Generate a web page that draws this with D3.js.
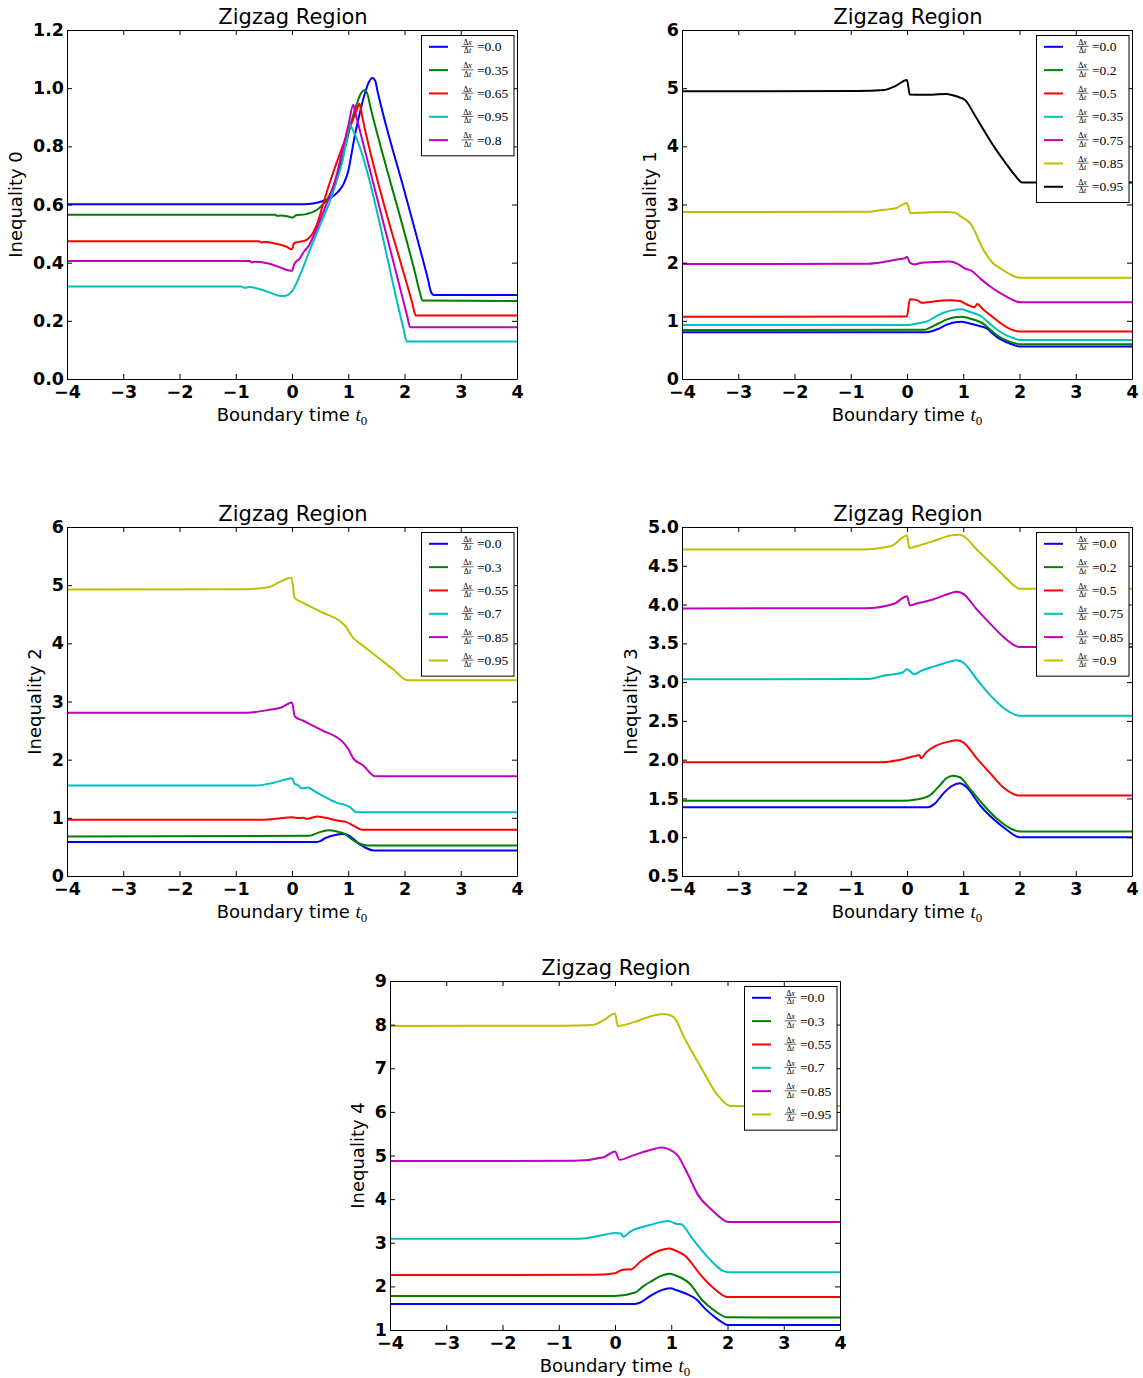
<!DOCTYPE html>
<html>
<head>
<meta charset="utf-8">
<script src="https://cdn.jsdelivr.net/npm/d3@7"></script>
<style>
  body { margin: 0; background: #fff; }
  svg { display: block; }
</style>
</head>
<body>
<svg id="fig" width="1143" height="1378"></svg>
<script>
// ---- shared axis values ----
const tTicks = [-4, -3, -2, -1, 0, 1, 2, 3, 4];

// ---- Inequality 0 ----
const ratios0 = ["0.0", "0.35", "0.65", "0.95", "0.8"];
const yTicks0 = [0.0, 0.2, 0.4, 0.6, 0.8, 1.0, 1.2];
const ineq0_a = [[-4,0.601],[0.2,0.601],[0.4,0.604],[0.55,0.612],[0.68,0.622],[0.82,0.644],[0.92,0.672],[1.0,0.715],[1.05,0.765],[1.1,0.82],[1.2,0.91],[1.3,0.985],[1.37,1.022],[1.43,1.035],[1.48,1.025],[1.52,0.99],[2.0,0.645],[2.3,0.43],[2.42,0.34],[2.47,0.3],[2.52,0.289],[4,0.289]];
const ineq0_b = [[-4,0.565],[-0.3,0.565],[-0.27,0.561],[-0.2,0.562],[-0.05,0.558],[0.02,0.555],[0.06,0.562],[0.25,0.567],[0.44,0.581],[0.55,0.6],[0.62,0.616],[0.74,0.661],[0.85,0.73],[0.95,0.8],[1.05,0.88],[1.15,0.945],[1.22,0.98],[1.28,0.993],[1.33,0.985],[1.4,0.93],[2.2,0.355],[2.27,0.3],[2.32,0.27],[4,0.268]];
const ineq0_c = [[-4,0.474],[-0.58,0.474],[-0.55,0.469],[-0.5,0.471],[-0.3,0.466],[-0.1,0.455],[0.0,0.446],[0.03,0.465],[0.08,0.47],[0.23,0.476],[0.3,0.485],[0.38,0.505],[0.45,0.535],[0.55,0.6],[0.68,0.68],[0.9,0.8],[1.05,0.875],[1.15,0.925],[1.2,0.946],[1.25,0.9],[2.14,0.26],[2.2,0.218],[4,0.218]];
const ineq0_d = [[-4,0.318],[-0.9,0.318],[-0.85,0.314],[-0.75,0.316],[-0.6,0.31],[-0.4,0.298],[-0.25,0.287],[-0.15,0.285],[-0.07,0.289],[0.0,0.302],[0.05,0.318],[0.3,0.435],[0.5,0.53],[0.7,0.625],[0.8,0.685],[0.9,0.75],[0.97,0.82],[1.03,0.875],[1.06,0.865],[1.98,0.175],[2.04,0.129],[4,0.129]];
const ineq0_e = [[-4,0.406],[-0.75,0.406],[-0.72,0.401],[-0.65,0.403],[-0.4,0.396],[-0.2,0.383],[-0.05,0.373],[0.0,0.372],[0.04,0.395],[0.14,0.415],[0.22,0.44],[0.3,0.458],[0.4,0.5],[0.5,0.547],[0.65,0.62],[0.77,0.685],[0.9,0.79],[1.0,0.87],[1.09,0.943],[1.12,0.92],[2.05,0.215],[2.1,0.178],[4,0.178]];

// ---- Inequality 1 ----
const ratios1 = ["0.0", "0.2", "0.5", "0.35", "0.75", "0.85", "0.95"];
const yTicks1 = [0, 1, 2, 3, 4, 5, 6];
const ineq1_a = [[-4,0.805],[0.35,0.805],[0.42,0.815],[0.55,0.86],[0.7,0.93],[0.85,0.975],[0.97,0.985],[1.1,0.96],[1.25,0.92],[1.42,0.87],[1.5,0.8],[1.6,0.72],[1.75,0.64],[1.9,0.585],[2.0,0.557],[4,0.557]];
const ineq1_b = [[-4,0.842],[0.3,0.845],[0.4,0.88],[0.55,0.95],[0.7,1.02],[0.85,1.06],[0.97,1.07],[1.1,1.045],[1.3,0.98],[1.4,0.92],[1.5,0.83],[1.65,0.72],[1.8,0.65],[1.95,0.605],[2.0,0.596],[4,0.596]];
const ineq1_c = [[-4,1.071],[-0.1,1.073],[0.0,1.08],[0.05,1.37],[0.15,1.36],[0.2,1.346],[0.26,1.31],[0.4,1.325],[0.6,1.345],[0.76,1.356],[0.94,1.34],[1.05,1.29],[1.2,1.235],[1.25,1.29],[1.35,1.2],[1.48,1.1],[1.65,0.97],[1.8,0.875],[1.95,0.822],[2.0,0.815],[4,0.815]];
const ineq1_d = [[-4,0.928],[0.0,0.93],[0.2,0.96],[0.38,1.0],[0.5,1.07],[0.65,1.14],[0.8,1.18],[0.97,1.198],[1.1,1.16],[1.33,1.07],[1.45,0.97],[1.6,0.85],[1.75,0.76],[1.9,0.7],[2.0,0.672],[4,0.672]];
const ineq1_e = [[-4,1.977],[-0.7,1.98],[-0.5,2.0],[-0.2,2.05],[-0.04,2.075],[0.0,2.1],[0.05,2.0],[0.14,1.97],[0.26,2.0],[0.5,2.01],[0.76,2.02],[0.9,1.98],[1.03,1.9],[1.15,1.86],[1.3,1.73],[1.48,1.59],[1.6,1.51],[1.77,1.415],[1.9,1.35],[2.01,1.318],[4,1.318]];
const ineq1_f = [[-4,2.871],[-0.7,2.875],[-0.4,2.91],[-0.2,2.935],[0.0,3.026],[0.06,2.855],[0.29,2.86],[0.7,2.871],[0.85,2.86],[0.95,2.8],[1.13,2.67],[1.36,2.22],[1.5,2.02],[1.71,1.87],[1.85,1.79],[2.01,1.742],[4,1.742]];
const ineq1_g = [[-4,4.947],[-0.9,4.95],[-0.4,4.97],[-0.2,5.04],[0.0,5.14],[0.05,4.89],[0.3,4.885],[0.7,4.9],[0.89,4.856],[1.04,4.79],[1.19,4.56],[1.37,4.27],[1.55,3.99],[1.74,3.73],[1.92,3.5],[2.05,3.38],[4,3.38]];

// ---- Inequality 2 ----
const ratios2 = ["0.0", "0.3", "0.55", "0.7", "0.85", "0.95"];
const yTicks2 = [0, 1, 2, 3, 4, 5, 6];
const ineq2_a = [[-4,0.583],[0.43,0.583],[0.5,0.6],[0.6,0.655],[0.75,0.7],[0.9,0.72],[1.0,0.7],[1.1,0.63],[1.2,0.545],[1.3,0.49],[1.45,0.44],[4,0.44]];
const ineq2_b = [[-4,0.68],[0.3,0.69],[0.4,0.72],[0.55,0.77],[0.65,0.785],[0.8,0.765],[0.95,0.72],[1.05,0.64],[1.15,0.58],[1.33,0.526],[4,0.526]];
const ineq2_c = [[-4,0.966],[-0.5,0.968],[-0.28,0.983],[0.0,1.011],[0.08,0.998],[0.2,1.0],[0.26,0.983],[0.35,1.0],[0.45,1.023],[0.6,1.0],[0.8,0.955],[0.97,0.926],[1.1,0.86],[1.24,0.795],[4,0.795]];
const ineq2_d = [[-4,1.554],[-0.64,1.556],[-0.34,1.6],[0.0,1.68],[0.05,1.583],[0.1,1.566],[0.16,1.51],[0.2,1.508],[0.28,1.52],[0.43,1.44],[0.6,1.35],[0.8,1.257],[0.94,1.223],[1.03,1.183],[1.15,1.097],[4,1.097]];
const ineq2_e = [[-4,2.806],[-0.8,2.808],[-0.4,2.857],[-0.19,2.897],[0.0,2.983],[0.05,2.743],[0.2,2.669],[0.55,2.497],[0.8,2.383],[0.91,2.297],[1.0,2.183],[1.09,2.023],[1.27,1.897],[1.48,1.714],[4,1.714]];
const ineq2_f = [[-4,4.926],[-0.9,4.928],[-0.4,4.97],[-0.19,5.07],[-0.01,5.126],[0.05,4.783],[0.2,4.697],[0.55,4.526],[0.85,4.383],[0.97,4.27],[1.06,4.126],[1.27,3.954],[1.57,3.726],[1.81,3.543],[2.05,3.366],[4,3.366]];

// ---- Inequality 3 ----
const ratios3 = ["0.0", "0.2", "0.5", "0.75", "0.85", "0.9"];
const yTicks3 = [0.5, 1.0, 1.5, 2.0, 2.5, 3.0, 3.5, 4.0, 4.5, 5.0];
const ineq3_a = [[-4,1.387],[0.37,1.387],[0.49,1.43],[0.64,1.559],[0.79,1.657],[0.94,1.696],[1.06,1.644],[1.3,1.409],[1.55,1.224],[1.79,1.087],[2.0,1.0],[4,1.0]];
const ineq3_b = [[-4,1.469],[-0.08,1.47],[0.16,1.486],[0.4,1.537],[0.58,1.666],[0.7,1.76],[0.82,1.794],[0.94,1.773],[1.12,1.623],[1.37,1.409],[1.6,1.237],[1.85,1.109],[2.0,1.074],[4,1.074]];
const ineq3_c = [[-4,1.966],[-0.44,1.966],[-0.14,1.996],[0.16,2.051],[0.22,2.06],[0.25,2.017],[0.34,2.094],[0.52,2.18],[0.76,2.236],[0.88,2.249],[1.0,2.223],[1.24,2.017],[1.49,1.816],[1.73,1.631],[2.0,1.537],[4,1.537]];
const ineq3_d = [[-4,3.037],[-0.68,3.04],[-0.44,3.08],[-0.08,3.123],[0.0,3.166],[0.13,3.101],[0.25,3.144],[0.52,3.209],[0.76,3.264],[0.88,3.281],[1.0,3.251],[1.24,3.037],[1.49,2.823],[1.73,2.66],[2.0,2.566],[4,2.566]];
const ineq3_e = [[-4,3.95],[-0.74,3.952],[-0.23,4.01],[0.0,4.107],[0.05,3.989],[0.16,4.01],[0.46,4.066],[0.76,4.143],[0.88,4.164],[1.0,4.139],[1.24,3.937],[1.49,3.744],[1.73,3.573],[2.0,3.453],[4,3.453]];
const ineq3_f = [[-4,4.709],[-0.8,4.71],[-0.29,4.751],[0.0,4.889],[0.04,4.73],[0.16,4.751],[0.46,4.816],[0.76,4.889],[0.94,4.901],[1.03,4.871],[1.24,4.709],[1.49,4.537],[1.73,4.366],[1.88,4.259],[2.0,4.203],[4,4.203]];

// ---- Inequality 4 ----
const ratios4 = ["0.0", "0.3", "0.55", "0.7", "0.85", "0.95"];
const yTicks4 = [1, 2, 3, 4, 5, 6, 7, 8, 9];
const ineq4_a = [[-4,1.598],[0.35,1.598],[0.45,1.63],[0.6,1.76],[0.75,1.87],[0.98,1.955],[1.1,1.91],[1.3,1.81],[1.45,1.7],[1.6,1.49],[1.78,1.29],[1.9,1.18],[2.0,1.115],[4,1.115]];
const ineq4_b = [[-4,1.779],[0.0,1.78],[0.36,1.86],[0.5,2.0],[0.65,2.12],[0.8,2.23],[0.97,2.29],[1.08,2.25],[1.33,2.06],[1.54,1.7],[1.78,1.434],[2.0,1.29],[4,1.285]];
const ineq4_c = [[-4,2.26],[-0.37,2.265],[0.0,2.3],[0.09,2.36],[0.15,2.38],[0.25,2.39],[0.27,2.385],[0.46,2.577],[0.76,2.806],[0.97,2.87],[1.06,2.829],[1.24,2.707],[1.54,2.234],[1.78,1.93],[2.0,1.756],[4,1.756]];
const ineq4_d = [[-4,3.09],[-0.62,3.092],[-0.26,3.164],[0.0,3.225],[0.1,3.21],[0.15,3.14],[0.27,3.254],[0.62,3.407],[0.95,3.499],[1.1,3.43],[1.16,3.43],[1.39,3.07],[1.66,2.653],[2.0,2.326],[4,2.326]];
const ineq4_e = [[-4,4.875],[-0.73,4.878],[-0.2,4.962],[0.0,5.09],[0.08,4.9],[0.35,5.015],[0.64,5.13],[0.82,5.183],[0.94,5.152],[1.12,4.992],[1.3,4.558],[1.48,4.086],[1.72,3.758],[2.02,3.476],[4,3.476]];
const ineq4_f = [[-4,7.971],[-0.91,7.975],[-0.4,7.994],[-0.2,8.101],[0.0,8.253],[0.05,7.971],[0.35,8.063],[0.64,8.192],[0.85,8.246],[0.94,8.23],[1.05,8.162],[1.24,7.682],[1.54,6.996],[1.78,6.463],[1.93,6.234],[2.05,6.135],[4,6.135]];

// classic colour cycle: b, g, r, c, m, y, k
const cycle = ["#0000ff", "#008000", "#ff0000", "#00bfbf", "#bf00bf", "#bfbf00", "#000000"];

const panels = [
  { box: {l: 67, r: 517, t: 30, b: 379}, yLabel: "Inequality 0", yDomain: [0, 1.2], yTicks: yTicks0, fmt: d3.format(".1f"),
    ratios: ratios0, series: [ineq0_a, ineq0_b, ineq0_c, ineq0_d, ineq0_e] },
  { box: {l: 682, r: 1132, t: 30, b: 379}, yLabel: "Inequality 1", yDomain: [0, 6], yTicks: yTicks1, fmt: d3.format("d"),
    ratios: ratios1, series: [ineq1_a, ineq1_b, ineq1_c, ineq1_d, ineq1_e, ineq1_f, ineq1_g] },
  { box: {l: 67, r: 517, t: 527, b: 876}, yLabel: "Inequality 2", yDomain: [0, 6], yTicks: yTicks2, fmt: d3.format("d"),
    ratios: ratios2, series: [ineq2_a, ineq2_b, ineq2_c, ineq2_d, ineq2_e, ineq2_f] },
  { box: {l: 682, r: 1132, t: 527, b: 876}, yLabel: "Inequality 3", yDomain: [0.5, 5.0], yTicks: yTicks3, fmt: d3.format(".1f"),
    ratios: ratios3, series: [ineq3_a, ineq3_b, ineq3_c, ineq3_d, ineq3_e, ineq3_f] },
  { box: {l: 390, r: 840, t: 981, b: 1330}, yLabel: "Inequality 4", yDomain: [1, 9], yTicks: yTicks4, fmt: d3.format("d"),
    ratios: ratios4, series: [ineq4_a, ineq4_b, ineq4_c, ineq4_d, ineq4_e, ineq4_f] }
];

const svg = d3.select("#fig");
const SANS = "'DejaVu Sans', sans-serif";
const SERIF = "'Liberation Serif', 'DejaVu Serif', serif";

panels.forEach((p, idx) => {
  const {l, r, t, b} = p.box;
  const g = svg.append("g");
  const x = d3.scaleLinear().domain([-4, 4]).range([l, r]);
  const y = d3.scaleLinear().domain(p.yDomain).range([b, t]);

  const clipId = "clip" + idx;
  g.append("clipPath").attr("id", clipId)
    .append("rect").attr("x", l).attr("y", t).attr("width", r - l).attr("height", b - t);

  const line = d3.line().x(d => x(d[0])).y(d => y(d[1])).curve(d3.curveMonotoneX);

  g.append("g").attr("clip-path", `url(#${clipId})`)
    .selectAll("path").data(p.series).join("path")
    .attr("d", line)
    .attr("fill", "none")
    .attr("stroke", (d, i) => cycle[i])
    .attr("stroke-width", 2)
    .attr("stroke-linejoin", "round");

  // axes with inward ticks on all four sides
  const styleAxis = sel => {
    sel.select(".domain").attr("stroke", "#000").attr("stroke-width", 1);
    sel.selectAll(".tick line").attr("stroke", "#000").attr("stroke-width", 1);
    sel.selectAll("text")
      .attr("font-family", SANS).attr("font-weight", "bold").attr("font-size", 17.5).attr("fill", "#000");
  };
  g.append("g").attr("transform", `translate(0,${b})`)
    .call(d3.axisBottom(x).tickValues(tTicks).tickFormat(d3.format("d")).tickSizeInner(-5).tickSizeOuter(0).tickPadding(6.2))
    .call(styleAxis);
  g.append("g").attr("transform", `translate(0,${t})`)
    .call(d3.axisTop(x).tickValues(tTicks).tickFormat("").tickSizeInner(-5).tickSizeOuter(0))
    .call(styleAxis);
  const gy = g.append("g").attr("transform", `translate(${l},0)`)
    .call(d3.axisLeft(y).tickValues(p.yTicks).tickFormat(p.fmt).tickSizeInner(-5).tickSizeOuter(0).tickPadding(3))
    .call(styleAxis);
  g.append("g").attr("transform", `translate(${r},0)`)
    .call(d3.axisRight(y).tickValues(p.yTicks).tickFormat("").tickSizeInner(-5).tickSizeOuter(0))
    .call(styleAxis);

  // title
  g.append("text")
    .attr("x", (l + r) / 2 + 1).attr("y", t - 6)
    .attr("text-anchor", "middle")
    .attr("font-family", SANS).attr("font-size", 21)
    .text("Zigzag Region");

  // x label with math t_0
  const xl = g.append("text")
    .attr("x", (l + r) / 2).attr("y", b + 42)
    .attr("text-anchor", "middle")
    .attr("font-family", SANS).attr("font-size", 18);
  xl.append("tspan").text("Boundary time ");
  xl.append("tspan").attr("font-family", SERIF).attr("font-style", "italic").attr("font-size", 19).text("t");
  xl.append("tspan").attr("font-family", SERIF).attr("font-size", 13).attr("dy", 4).text("0");

  // y label, placed left of the widest tick label
  let maxW = 0;
  gy.selectAll(".tick text").each(function () { maxW = Math.max(maxW, this.getComputedTextLength()); });
  const ylx = l - 3 - maxW - 10.5;
  g.append("text")
    .attr("transform", `translate(${ylx},${(t + b) / 2}) rotate(-90)`)
    .attr("text-anchor", "middle")
    .attr("font-family", SANS).attr("font-size", 18)
    .text(p.yLabel);

  // legend
  const n = p.series.length;
  const lx = r - 95.5, ly = t + 5.5, lw = 92.5, lh = 23.33 * (n - 1) + 27;
  const lg = g.append("g");
  lg.append("rect")
    .attr("x", lx).attr("y", ly).attr("width", lw).attr("height", lh)
    .attr("fill", "#fff").attr("stroke", "#000").attr("stroke-width", 1);
  p.ratios.forEach((ratio, i) => {
    const ry = ly + 11.3 + i * 23.33;
    lg.append("line")
      .attr("x1", lx + 7.5).attr("x2", lx + 26.5).attr("y1", ry).attr("y2", ry)
      .attr("stroke", cycle[i]).attr("stroke-width", 2);
    const fx = lx + 46;
    const num = lg.append("text").attr("x", fx).attr("y", ry - 1.8)
      .attr("text-anchor", "middle").attr("font-family", SERIF).attr("font-size", 8);
    num.append("tspan").text("Δ");
    num.append("tspan").attr("font-style", "italic").text("x");
    lg.append("line")
      .attr("x1", fx - 6).attr("x2", fx + 6).attr("y1", ry - 0.3).attr("y2", ry - 0.3)
      .attr("stroke", "#000").attr("stroke-width", 0.6);
    const den = lg.append("text").attr("x", fx).attr("y", ry + 6.4)
      .attr("text-anchor", "middle").attr("font-family", SERIF).attr("font-size", 8);
    den.append("tspan").text("Δ");
    den.append("tspan").attr("font-style", "italic").text("t");
    lg.append("text")
      .attr("x", lx + 55.5).attr("y", ry + 4.4)
      .attr("font-family", SERIF).attr("font-size", 13.5)
      .text("=" + ratio);
  });
});
</script>
</body>
</html>
